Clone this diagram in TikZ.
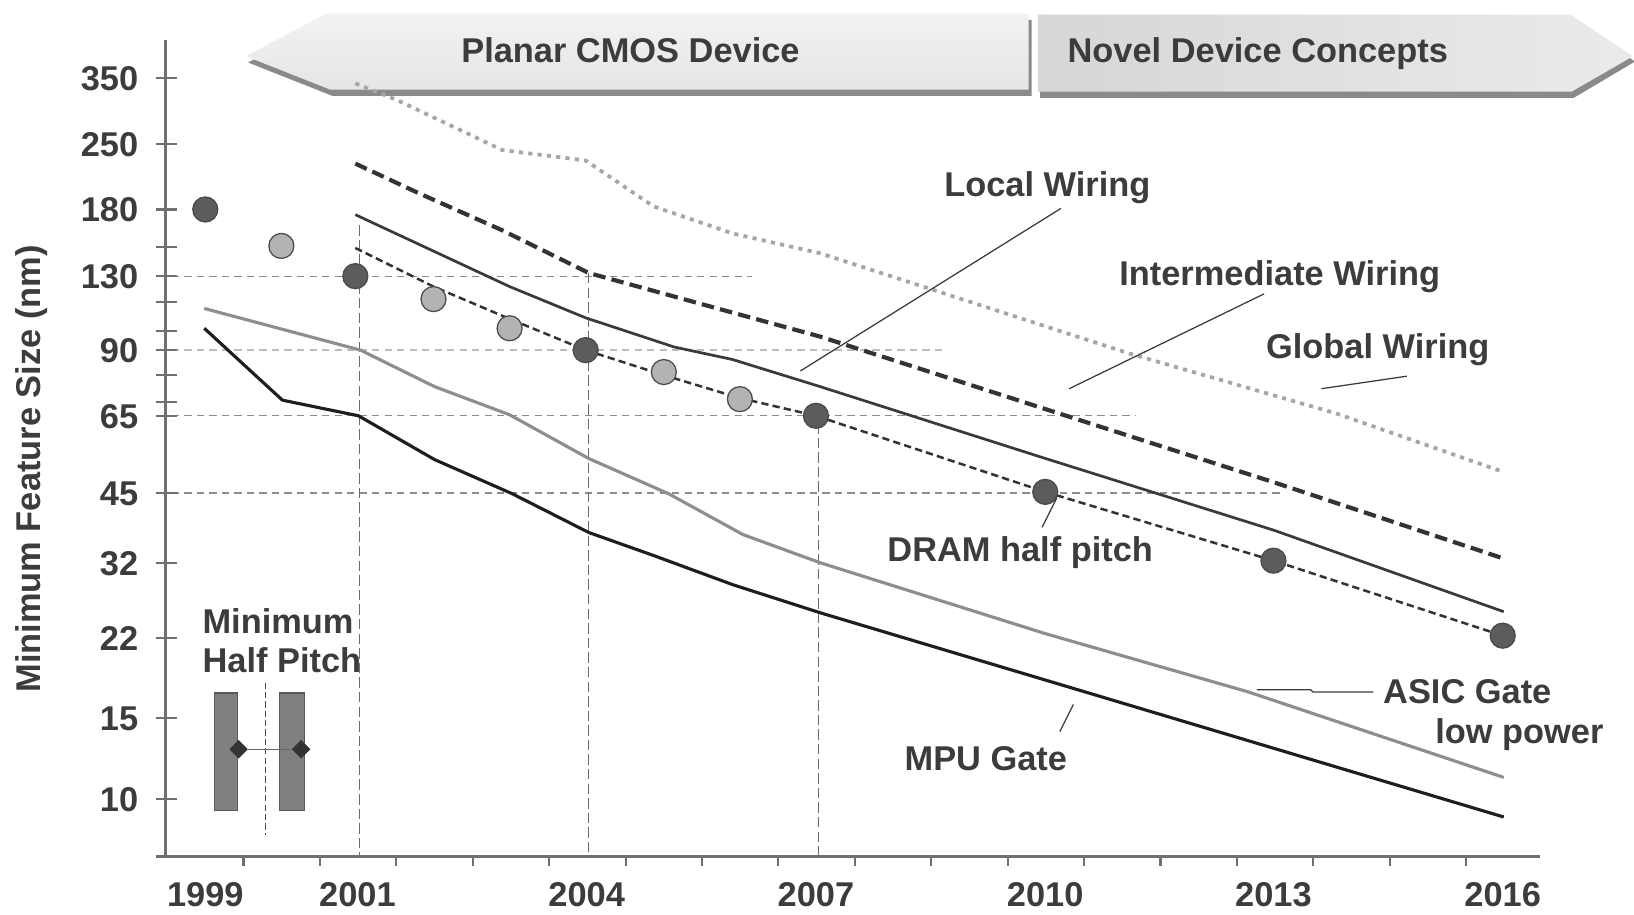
\documentclass[tikz,border=0pt]{standalone}
\usepackage{fontspec}
\setmainfont{Liberation Sans}
\usetikzlibrary{shapes.geometric}
\definecolor{txt}{HTML}{3C3C3C}
\definecolor{axisc}{HTML}{707070}
\definecolor{gridc}{HTML}{8C8C8C}
\definecolor{gridl}{HTML}{BDBDBD}
\definecolor{vgrid}{HTML}{6A6A6A}
\definecolor{mpuc}{HTML}{1E1E1E}
\definecolor{asicc}{HTML}{8E8E8E}
\definecolor{localc}{HTML}{3A3A3A}
\definecolor{interc}{HTML}{333333}
\definecolor{dramc}{HTML}{333333}
\definecolor{globc}{HTML}{A6A6A6}
\definecolor{shadowc}{HTML}{8A8A8A}
\definecolor{dotdark}{HTML}{5C5C5C}
\definecolor{dotlight}{HTML}{B3B3B3}
\definecolor{dotedge}{HTML}{4A4A4A}
\definecolor{barc}{HTML}{808080}
\begin{document}
\begin{tikzpicture}[x=0.5pt,y=-0.5pt,
  every node/.style={font=\fontsize{16.5}{19}\selectfont\bfseries, text=txt, inner sep=0pt},
  tx/.style={text height=11.8pt, text depth=0pt},
  axisline/.style={axisc, line width=1.2pt},
  tickline/.style={axisc, line width=1pt},
  hgrid/.style={gridc, line width=0.6pt, dash pattern=on 3.5pt off 2.5pt},
  hgridlight/.style={gridl, line width=1.1pt, dash pattern=on 3.5pt off 2.5pt},
  vgridline/.style={vgrid, line width=0.5pt, dash pattern=on 5pt off 2pt},
  mpu/.style={mpuc, line width=1.5pt, line join=round},
  asic/.style={asicc, line width=1.5pt, line join=round},
  localw/.style={localc, line width=1.3pt, line join=round},
  interw/.style={interc, line width=2pt, dash pattern=on 6pt off 3pt},
  dramw/.style={dramc, line width=1.2pt, dash pattern=on 3.5pt off 2pt},
  globw/.style={globc, line width=1.8pt, dash pattern=on 2pt off 2.5pt},
  leader/.style={localc, line width=0.6pt},
  darkdot/.style={circle, minimum size=12pt, fill=dotdark, draw=dotedge, line width=0.6pt},
  lightdot/.style={circle, minimum size=12pt, fill=dotlight, draw=dotedge, line width=0.6pt},
  bar/.style={fill=barc, draw=black!65, line width=0.5pt},
  diam/.style={diamond, minimum size=9pt, fill=black!80},
]
\useasboundingbox (0,0) rectangle (1568,878);
\fill[white] (0,0) rectangle (1568,878);

% ---- banners ----
\fill[shadowc] (315,19) -- (238,60) -- (319,92) -- (990,92) -- (990,19) -- cycle;
\shade[top color=black!5, bottom color=black!10] (313,13) -- (236,54) -- (317,86) -- (987,86) -- (987,13) -- cycle;
\fill[shadowc] (998,19) -- (1509,19) -- (1569,59) -- (1510,94) -- (998,94) -- cycle;
\shade[left color=black!16, right color=black!8] (996,14) -- (1507,14) -- (1567,54) -- (1508,88) -- (996,88) -- cycle;
\node[tx] (planar) at (605,48) {Planar CMOS Device};
\node[tx] (novel) at (1207,48) {Novel Device Concepts};

% ---- grid ----
\draw[hgrid] (165,265) -- (722,265);
\draw[hgridlight] (165,336) -- (908,336);
\draw[hgrid] (165,399) -- (1090,399);
\draw[hgrid] (165,473) -- (1228,473);
\draw[vgridline] (345,216) -- (345,822);
\draw[vgridline] (565,262) -- (565,822);
\draw[vgridline] (785,392) -- (785,822);

% ---- axes ----
\draw[axisline] (159,38) -- (159,822);
\draw[axisline] (150,822) -- (1478,822);
\foreach \yy in {75,138,201,237,265,290,318,336,360,386,399,473,540,612,689,767}
  \draw[tickline] (150,\yy) -- (170,\yy);
\foreach \k in {0,...,16}
  \draw[tickline] ({197+(\k+0.5)*73.33},822) -- ({197+(\k+0.5)*73.33},831);

\foreach \v/\yy/\nm in {350/75/ya,250/138/yb,180/201/yc,130/265/yd,90/336/ye,65/399/yf,45/473/yg,32/540/yh,22/612/yi,15/689/yj,10/767/yk}
  \node[tx, anchor=east] (\nm) at (133,\yy) {\v};
\foreach \v/\xx/\nm in {1999/197/xa,2001/343/xb,2004/563/xc,2007/783/xd,2010/1003/xe,2013/1222/xf,2016/1442/xg}
  \node[tx] (\nm) at (\xx,858) {\v};
\node[rotate=90] (ylabel) at (30,450) {Minimum Feature Size (nm)};

% ---- curves ----
\draw[globw] (341,80) -- (381,96) -- (482,144) -- (562,154) -- (627,198) -- (703,224) -- (787,243) -- (1083,339) -- (1283,397) -- (1443,453);
\draw[interw] (341,157) -- (401,185) -- (482,221) -- (565,262) -- (703,300) -- (787,323) -- (1017,397) -- (1223,463) -- (1443,536);
\draw[localw] (341,206) -- (489,275) -- (562,305) -- (647,333) -- (703,345) -- (787,371) -- (997,438) -- (1223,509) -- (1443,587);
\draw[dramw] (341,238) -- (416,275) -- (489,306) -- (562,336) -- (637,360) -- (710,382) -- (783,399) -- (1003,472) -- (1222,538) -- (1442,610);
\draw[asic] (196,296) -- (346,336) -- (417,371) -- (489,398) -- (565,440) -- (642,474) -- (713,513) -- (787,540) -- (1003,608) -- (1198,664) -- (1443,746);
\draw[mpu] (196,315) -- (271,384) -- (344,399) -- (417,441) -- (492,474) -- (565,511) -- (627,533) -- (703,561) -- (787,588) -- (1443,784);

% ---- dots ----
\node[darkdot] (d1999) at (197,201) {};
\node[lightdot] (d2000) at (270,236) {};
\node[darkdot] (d2001) at (341,265) {};
\node[lightdot] (d2002) at (416,287) {};
\node[lightdot] (d2003) at (489,315) {};
\node[darkdot] (d2004) at (562,336) {};
\node[lightdot] (d2005) at (637,357) {};
\node[lightdot] (d2006) at (710,383) {};
\node[darkdot] (d2007) at (783,399) {};
\node[darkdot] (d2010) at (1003,472) {};
\node[darkdot] (d2013) at (1222,538) {};
\node[darkdot] (d2016) at (1442,610) {};

% ---- labels and leaders ----
\node[tx] (local) at (1005,177) {Local Wiring};
\coordinate (localA) at (1018,200);
\coordinate (localB) at (768,356);
\draw[leader] (localA) -- (localB);

\node[tx] (inter) at (1228,262) {Intermediate Wiring};
\coordinate (interA) at (1213,282);
\coordinate (interB) at (1026,373);
\draw[leader] (interA) -- (interB);

\node[tx] (glob) at (1322,332) {Global Wiring};
\coordinate (globA) at (1350,361);
\coordinate (globB) at (1268,373);
\draw[leader] (globA) -- (globB);

\node[tx] (dram) at (979,527) {DRAM half pitch};
\coordinate (dramA) at (1014,478);
\coordinate (dramB) at (1000,506);
\draw[leader] (dramA) -- (dramB);

\node[tx] (asicA) at (1408,663) {ASIC Gate};
\node[tx] (asicB) at (1458,702) {low power};
\coordinate (asicL1) at (1206,662);
\coordinate (asicL2) at (1318,664);
\draw[leader] (asicL1) -- (1258,662) -- (1260,664) -- (asicL2);

\node[tx] (mpuL) at (946,728) {MPU Gate};
\coordinate (mpuA) at (1030,676);
\coordinate (mpuB) at (1017,702);
\draw[leader] (mpuA) -- (mpuB);

% ---- half pitch icon ----
\node[anchor=west, align=left] (hp) at (194,615) {Minimum\\Half Pitch};
\draw[vgridline, black!70, dash pattern=on 3pt off 1.5pt] (255,655) -- (255,801);
\path[bar] (206,665) rectangle (228,778);
\path[bar] (268,665) rectangle (292,778);
\node[diam] (dmL) at (229,719) {};
\node[diam] (dmR) at (289,719) {};
\draw[black!60, line width=0.6pt] (dmL) -- (dmR);
\end{tikzpicture}
\end{document}
